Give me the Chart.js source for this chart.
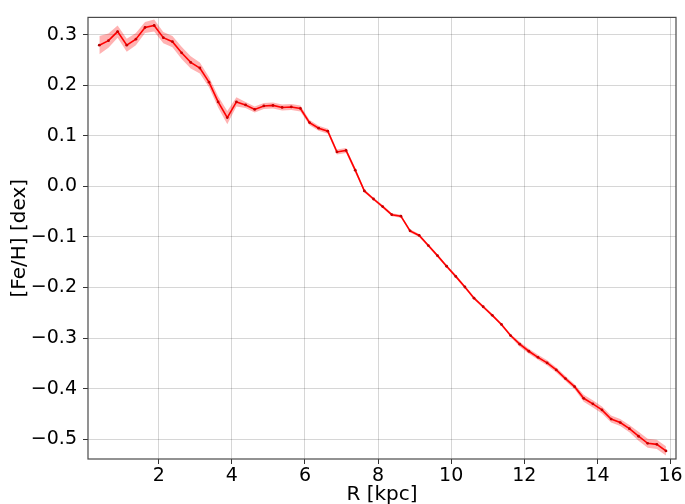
<!DOCTYPE html>
<html>
<head>
<meta charset="utf-8">
<script src="https://cdn.jsdelivr.net/npm/chart.js@4.4.1/dist/chart.umd.min.js"></script>
<style>
  html, body { margin: 0; padding: 0; background: #fff; overflow: hidden; }
  #wrap { width: 685px; height: 520px; }
</style>
</head>
<body>
<div id="wrap"><canvas id="fehChart" width="685" height="520"></canvas></div>
<script>
// radius bins (kpc)
const radius = [0.375, 0.625, 0.875, 1.125, 1.375, 1.625, 1.875, 2.125, 2.375, 2.625,
  2.875, 3.125, 3.375, 3.625, 3.875, 4.125, 4.375, 4.625, 4.875, 5.125,
  5.375, 5.625, 5.875, 6.125, 6.375, 6.625, 6.875, 7.125, 7.375, 7.625,
  7.875, 8.125, 8.375, 8.625, 8.875, 9.125, 9.375, 9.625, 9.875, 10.125,
  10.375, 10.625, 10.875, 11.125, 11.375, 11.625, 11.875, 12.125, 12.375, 12.625,
  12.875, 13.125, 13.375, 13.625, 13.875, 14.125, 14.375, 14.625, 14.875, 15.125,
  15.375, 15.625, 15.875];

// mean [Fe/H] per bin
const feh = [0.279, 0.288, 0.306, 0.279, 0.291, 0.314, 0.318, 0.294, 0.286, 0.264,
  0.245, 0.234, 0.206, 0.167, 0.136, 0.167, 0.161, 0.152, 0.159, 0.160,
  0.156, 0.157, 0.154, 0.126, 0.115, 0.109, 0.068, 0.071, 0.032, -0.009,
  -0.025, -0.040, -0.056, -0.059, -0.088, -0.097, -0.117, -0.137, -0.158, -0.178,
  -0.199, -0.221, -0.238, -0.255, -0.273, -0.295, -0.312, -0.326, -0.338, -0.349,
  -0.363, -0.380, -0.396, -0.419, -0.430, -0.442, -0.460, -0.467, -0.479, -0.494,
  -0.508, -0.510, -0.523];

// 1-sigma half width of the shaded band
const fehErr = [0.018, 0.014, 0.012, 0.013, 0.012, 0.011, 0.012, 0.011, 0.011, 0.012,
  0.012, 0.011, 0.010, 0.011, 0.013, 0.009, 0.006, 0.006, 0.006, 0.006,
  0.006, 0.006, 0.006, 0.005, 0.005, 0.005, 0.005, 0.005, 0.005, 0.003,
  0.003, 0.003, 0.003, 0.003, 0.003, 0.003, 0.003, 0.003, 0.003, 0.003,
  0.003, 0.003, 0.003, 0.003, 0.003, 0.003, 0.005, 0.005, 0.005, 0.005,
  0.005, 0.005, 0.005, 0.007, 0.007, 0.007, 0.007, 0.007, 0.007, 0.009,
  0.009, 0.009, 0.009];

const xTicks = [2, 4, 6, 8, 10, 12, 14, 16];
const yTicks = [-0.5, -0.4, -0.3, -0.2, -0.1, 0.0, 0.1, 0.2, 0.3];

const pts = (arr) => radius.map((r, i) => ({ x: r, y: arr[i] }));
const upper = pts(feh.map((v, i) => v + fehErr[i]));
const lower = pts(feh.map((v, i) => v - fehErr[i]));

// box around the plot area (matplotlib style spines)
const frame = {
  id: 'frame',
  afterDraw(chart) {
    const a = chart.chartArea;
    const ctx = chart.ctx;
    ctx.save();
    ctx.strokeStyle = '#4a4a4a';
    ctx.lineWidth = 1.2;
    ctx.strokeRect(a.left, a.top, a.right - a.left, a.bottom - a.top);
    ctx.restore();
  }
};

const font = { family: 'DejaVu Sans', size: 19 };

new Chart(document.getElementById('fehChart'), {
  type: 'line',
  data: {
    datasets: [
      { data: upper, borderWidth: 0, pointRadius: 0, fill: false, borderColor: 'rgba(0,0,0,0)' },
      { data: lower, borderWidth: 0, pointRadius: 0, fill: '-1', borderColor: 'rgba(0,0,0,0)',
        backgroundColor: 'rgba(255,0,0,0.3)' },
      { data: pts(feh), borderColor: '#ff0000', borderWidth: 1.6, fill: false,
        pointRadius: 1.4, pointBackgroundColor: '#b00000', pointBorderWidth: 0 }
    ]
  },
  options: {
    responsive: false,
    animation: false,
    layout: { padding: { top: 12, right: 9, left: 0, bottom: 0 } },
    plugins: { legend: { display: false }, tooltip: { enabled: false } },
    scales: {
      x: {
        type: 'linear', min: 0.065, max: 16.15,
        afterBuildTicks: (s) => { s.ticks = xTicks.map(v => ({ value: v })); },
        afterFit: (s) => { s.height = 61; },
        ticks: { font: font, color: '#000', padding: 1, maxRotation: 0 },
        grid: { color: 'rgba(0,0,0,0.16)', lineWidth: 1, tickLength: 5, tickColor: '#333' },
        border: { display: false },
        title: { display: true, text: 'R [kpc]', font: { family: 'DejaVu Sans', size: 20 },
          color: '#000', padding: { top: 0, bottom: 13 } }
      },
      y: {
        type: 'linear', min: -0.539, max: 0.334,
        afterBuildTicks: (s) => { s.ticks = yTicks.map(v => ({ value: v })); },
        afterFit: (s) => { s.width = 88; },
        ticks: { font: font, color: '#000', padding: 6,
          callback: (v) => v.toFixed(1).replace('-', '\u2212') },
        grid: { color: 'rgba(0,0,0,0.16)', lineWidth: 1, tickLength: 5, tickColor: '#333' },
        border: { display: false },
        title: { display: true, text: '[Fe/H] [dex]', font: { family: 'DejaVu Sans', size: 20 },
          color: '#000', padding: { top: 8, bottom: 0 } }
      }
    }
  },
  plugins: [frame]
});
</script>
</body>
</html>
